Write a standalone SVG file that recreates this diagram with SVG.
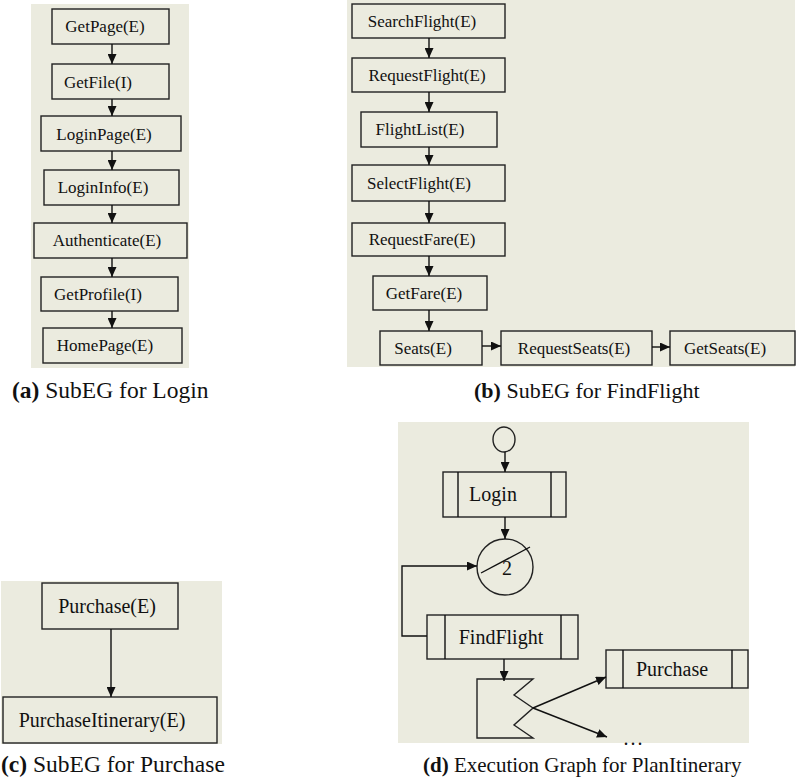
<svg xmlns="http://www.w3.org/2000/svg" width="796" height="784" viewBox="0 0 796 784">
  <defs>
    <marker id="arrow" markerUnits="userSpaceOnUse" markerWidth="10" markerHeight="9" refX="10" refY="4.5" orient="auto">
      <path d="M0,0 L10,4.5 L0,9 z" fill="#111"/>
    </marker>
  </defs>
  <style>
    .panel { fill: #ebebdf; }
    .box { fill: #ebebdf; stroke: #222; stroke-width: 1.4; }
    .edge { fill: none; stroke: #111; stroke-width: 1.4; marker-end: url(#arrow); }
    .line { fill: none; stroke: #111; stroke-width: 1.4; }
    .lbl { font-family: "Liberation Serif", "Times New Roman", serif; font-size: 17px; fill: #111; text-anchor: middle; }
    .lbl2 { font-family: "Liberation Serif", "Times New Roman", serif; font-size: 20px; fill: #111; text-anchor: middle; }
    .cap { font-family: "Liberation Serif", "Times New Roman", serif; fill: #111; }
    .capb { font-weight: bold; }
  </style>
  <rect width="796" height="784" fill="#ffffff"/>

  <!-- panel backgrounds -->
  <rect class="panel" x="31" y="4" width="158" height="364"/>
  <rect class="panel" x="347" y="0" width="448" height="367"/>
  <rect class="panel" x="1" y="581" width="221" height="163"/>
  <rect class="panel" x="398" y="422" width="351" height="321"/>

  <!-- (a) SubEG for Login -->
  <g id="a-getpage"><rect class="box" x="52" y="9" width="117" height="35"/><text class="lbl" x="105" y="32">GetPage(E)</text></g>
  <g id="a-getfile"><rect class="box" x="52" y="64" width="117" height="35"/><text class="lbl" x="98" y="88">GetFile(I)</text></g>
  <g id="a-loginpage"><rect class="box" x="41" y="116" width="140" height="35"/><text class="lbl" x="104" y="140">LoginPage(E)</text></g>
  <g id="a-logininfo"><rect class="box" x="44" y="170" width="135" height="35"/><text class="lbl" x="103" y="193">LoginInfo(E)</text></g>
  <g id="a-authenticate"><rect class="box" x="34" y="223" width="153" height="35"/><text class="lbl" x="107" y="246">Authenticate(E)</text></g>
  <g id="a-getprofile"><rect class="box" x="41" y="277" width="137" height="34"/><text class="lbl" x="98" y="300">GetProfile(I)</text></g>
  <g id="a-homepage"><rect class="box" x="43" y="328" width="139" height="35"/><text class="lbl" x="105" y="351">HomePage(E)</text></g>

  <!-- (b) SubEG for FindFlight -->
  <g id="b-searchflight"><rect class="box" x="352" y="4" width="153" height="34"/><text class="lbl" x="422" y="27">SearchFlight(E)</text></g>
  <g id="b-requestflight"><rect class="box" x="352" y="58" width="153" height="34"/><text class="lbl" x="427" y="81">RequestFlight(E)</text></g>
  <g id="b-flightlist"><rect class="box" x="361" y="112" width="136" height="35"/><text class="lbl" x="420" y="135">FlightList(E)</text></g>
  <g id="b-selectflight"><rect class="box" x="352" y="165" width="153" height="36"/><text class="lbl" x="419" y="189">SelectFlight(E)</text></g>
  <g id="b-requestfare"><rect class="box" x="352" y="223" width="153" height="33"/><text class="lbl" x="422" y="245">RequestFare(E)</text></g>
  <g id="b-getfare"><rect class="box" x="373" y="276" width="114" height="34"/><text class="lbl" x="424" y="299">GetFare(E)</text></g>
  <g id="b-seats"><rect class="box" x="380" y="331" width="102" height="34"/><text class="lbl" x="423" y="354">Seats(E)</text></g>
  <g id="b-requestseats"><rect class="box" x="501" y="331" width="151" height="34"/><text class="lbl" x="574" y="354">RequestSeats(E)</text></g>
  <g id="b-getseats"><rect class="box" x="670" y="331" width="125" height="34"/><text class="lbl" x="725" y="354">GetSeats(E)</text></g>

  <!-- (c) SubEG for Purchase -->
  <g id="c-purchase"><rect class="box" x="42" y="583" width="136" height="46"/><text class="lbl2" x="107" y="613">Purchase(E)</text></g>
  <g id="c-purchaseitinerary"><rect class="box" x="3" y="697" width="214" height="46"/><text class="lbl2" x="102" y="727">PurchaseItinerary(E)</text></g>

  <!-- (d) Execution Graph for PlanItinerary -->
  <g id="d-start"><ellipse class="box" cx="504" cy="439.5" rx="11" ry="12.5"/></g>
  <g id="d-login">
    <rect class="box" x="443" y="472" width="123" height="45"/>
    <line class="line" x1="458" y1="472" x2="458" y2="517"/>
    <line class="line" x1="551" y1="472" x2="551" y2="517"/>
    <text class="lbl2" x="493" y="501">Login</text>
  </g>
  <g id="d-loop">
    <circle class="box" cx="505" cy="567" r="28"/>
    <line class="line" x1="481" y1="573" x2="530" y2="547"/>
    <text class="lbl2" x="507" y="575">2</text>
  </g>
  <g id="d-findflight">
    <rect class="box" x="427" y="615" width="151" height="44"/>
    <line class="line" x1="445" y1="615" x2="445" y2="659"/>
    <line class="line" x1="561" y1="615" x2="561" y2="659"/>
    <text class="lbl2" x="501" y="644">FindFlight</text>
  </g>
  <g id="d-branch">
    <polygon class="box" points="477,679 533,679 514,695 533,708 514,725 533,738 477,738"/>
  </g>
  <g id="d-purchase">
    <rect class="box" x="606" y="650" width="142" height="38"/>
    <line class="line" x1="623" y1="650" x2="623" y2="688"/>
    <line class="line" x1="732" y1="650" x2="732" y2="688"/>
    <text class="lbl2" x="672" y="676">Purchase</text>
  </g>
  <g id="d-more"><text class="lbl2" x="634" y="745" letter-spacing="2">...</text></g>

  <!-- connectors -->
  <g id="connectors">
    <line class="edge" x1="112" y1="44" x2="112" y2="64"/>
    <line class="edge" x1="112" y1="99" x2="112" y2="116"/>
    <line class="edge" x1="112" y1="151" x2="112" y2="170"/>
    <line class="edge" x1="112" y1="205" x2="112" y2="223"/>
    <line class="edge" x1="112" y1="258" x2="112" y2="277"/>
    <line class="edge" x1="112" y1="311" x2="112" y2="328"/>

    <line class="edge" x1="429" y1="38" x2="429" y2="58"/>
    <line class="edge" x1="429" y1="92" x2="429" y2="112"/>
    <line class="edge" x1="429" y1="147" x2="429" y2="165"/>
    <line class="edge" x1="429" y1="201" x2="429" y2="223"/>
    <line class="edge" x1="429" y1="256" x2="429" y2="276"/>
    <line class="edge" x1="429" y1="310" x2="429" y2="331"/>
    <line class="edge" x1="482" y1="346" x2="501" y2="346"/>
    <line class="edge" x1="652" y1="347" x2="670" y2="347"/>

    <line class="edge" x1="111" y1="629" x2="111" y2="697"/>

    <line class="edge" x1="505" y1="452" x2="505" y2="472"/>
    <line class="edge" x1="505" y1="517" x2="505" y2="539"/>
    <polyline class="edge" points="427,636 402,636 402,566 477,566"/>
    <line class="edge" x1="504" y1="659" x2="504" y2="681"/>
    <line class="edge" x1="533" y1="708" x2="606" y2="677"/>
    <line class="edge" x1="533" y1="708" x2="607" y2="737"/>
  </g>

  <!-- captions -->
  <text class="cap" x="12" y="398" font-size="23.5"><tspan class="capb">(a)</tspan>  SubEG for Login</text>
  <text class="cap" x="474" y="398" font-size="22"><tspan class="capb">(b)</tspan>  SubEG for FindFlight</text>
  <text class="cap" x="1" y="772" font-size="23.5"><tspan class="capb">(c)</tspan>  SubEG for Purchase</text>
  <text class="cap" x="423" y="772" font-size="21"><tspan class="capb">(d)</tspan>  Execution Graph for PlanItinerary</text>
</svg>
